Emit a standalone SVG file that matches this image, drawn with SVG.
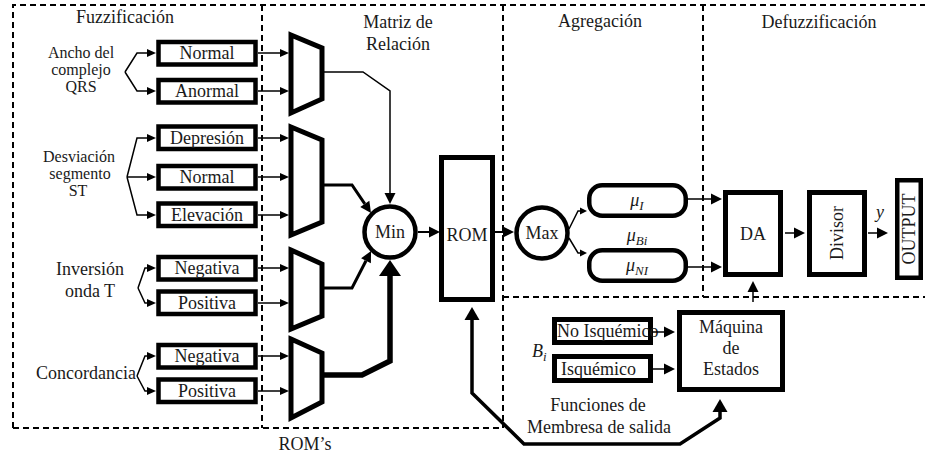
<svg xmlns="http://www.w3.org/2000/svg" width="925" height="457" viewBox="0 0 925 457">
  <style>
    text { font-family: "Liberation Serif", "DejaVu Serif", serif; font-size: 18px; fill: #1a1a1a; }
    .c { text-anchor: middle; }
    .it { font-style: italic; }
    .lbl { font-size: 16px; }
    .frame { fill: none; stroke: #000; stroke-width: 2; stroke-dasharray: 6 4; }
    .box { fill: #fff; stroke: #000; stroke-width: 4.5; }
    .blk { fill: #fff; stroke: #000; stroke-width: 5; }
    .rom { fill: #fff; stroke: #000; stroke-width: 5; stroke-linejoin: miter; }
    .ln { fill: none; stroke: #000; stroke-width: 1.5; }
    .ln2 { fill: none; stroke: #000; stroke-width: 2; }
    .ln3 { fill: none; stroke: #000; stroke-width: 3; }
    .ln4 { fill: none; stroke: #000; stroke-width: 3.5; }
    .ln6 { fill: none; stroke: #000; stroke-width: 5.5; }
  </style>
  <defs>
    <marker id="at" markerUnits="userSpaceOnUse" markerWidth="7" markerHeight="7" refX="0" refY="3.5" orient="auto" overflow="visible">
      <path d="M0,0 L7,3.5 L0,7 z" fill="#000"/>
    </marker>
    <marker id="as" markerUnits="userSpaceOnUse" markerWidth="9" markerHeight="8" refX="0" refY="4" orient="auto" overflow="visible">
      <path d="M0,0 L9,4 L0,8 z" fill="#000"/>
    </marker>
    <marker id="am" markerUnits="userSpaceOnUse" markerWidth="11" markerHeight="11" refX="0" refY="5.5" orient="auto-start-reverse" overflow="visible">
      <path d="M0,0 L11,5.5 L0,11 z" fill="#000"/>
    </marker>
    <marker id="ab" markerUnits="userSpaceOnUse" markerWidth="13" markerHeight="15" refX="0" refY="7.5" orient="auto-start-reverse" overflow="visible">
      <path d="M0,0 L13,7.5 L0,15 z" fill="#000"/>
    </marker>
    <marker id="ax" markerUnits="userSpaceOnUse" markerWidth="16" markerHeight="22" refX="0" refY="11" orient="auto" overflow="visible">
      <path d="M0,0 L16,11 L0,22 z" fill="#000"/>
    </marker>
  </defs>

  <!-- dashed stage frames -->
  <g id="frames">
    <path class="frame" d="M13,428 V5 H925"/>
    <path class="frame" d="M13,428 H503"/>
    <path class="frame" d="M262,5 V428"/>
    <path class="frame" d="M503,5 V428"/>
    <path class="frame" d="M703,5 V297"/>
    <path class="frame" d="M503,297 H925"/>
  </g>

  <!-- stage titles -->
  <g id="titles">
    <text class="c" x="125" y="23">Fuzzificación</text>
    <text class="c" x="398" y="28">Matriz de</text>
    <text class="c" x="398" y="50">Relación</text>
    <text class="c" x="600" y="27">Agregación</text>
    <text class="c" x="819" y="28">Defuzzificación</text>
    <text class="c" x="305" y="450">ROM’s</text>
    <text class="c" x="598" y="411">Funciones de</text>
    <text class="c" x="599" y="433">Membresa de salida</text>
  </g>

  <!-- input variable labels -->
  <g id="inputs">
    <text class="c lbl" x="81" y="58">Ancho del</text>
    <text class="c lbl" x="81" y="75">complejo</text>
    <text class="c lbl" x="81" y="92">QRS</text>
    <text class="c lbl" x="79" y="162">Desviación</text>
    <text class="c lbl" x="80" y="179">segmento</text>
    <text class="c lbl" x="78" y="196">ST</text>
    <text class="c" x="90" y="275">Inversión</text>
    <text class="c" x="90" y="297">onda T</text>
    <text class="c" x="86" y="379">Concordancia</text>
  </g>

  <!-- membership function blocks -->
  <g id="qrs-normal"><rect class="box" x="158.5" y="42" width="97" height="22.5"/><text class="c" x="207" y="59">Normal</text></g>
  <g id="qrs-anormal"><rect class="box" x="158.5" y="80" width="97" height="22.5"/><text class="c" x="207" y="97">Anormal</text></g>
  <g id="st-depresion"><rect class="box" x="158.5" y="126.5" width="97" height="22.5"/><text class="c" x="207" y="143.5">Depresión</text></g>
  <g id="st-normal"><rect class="box" x="158.5" y="166" width="97" height="22.5"/><text class="c" x="207" y="183">Normal</text></g>
  <g id="st-elevacion"><rect class="box" x="158.5" y="203.5" width="97" height="22.5"/><text class="c" x="207" y="220.5">Elevación</text></g>
  <g id="t-negativa"><rect class="box" x="158.5" y="257" width="97" height="22.5"/><text class="c" x="207" y="274">Negativa</text></g>
  <g id="t-positiva"><rect class="box" x="158.5" y="291.5" width="97" height="22.5"/><text class="c" x="207" y="308.5">Positiva</text></g>
  <g id="c-negativa"><rect class="box" x="158.5" y="345" width="97" height="22.5"/><text class="c" x="207" y="362">Negativa</text></g>
  <g id="c-positiva"><rect class="box" x="158.5" y="379.5" width="97" height="22.5"/><text class="c" x="207" y="396.5">Positiva</text></g>

  <!-- ROM blocks (trapezoids) -->
  <g id="rom-qrs"><polygon class="rom" points="291,35 322,48 322,99 291,113"/></g>
  <g id="rom-st"><polygon class="rom" points="291,127 322,140 322,222 291,235"/></g>
  <g id="rom-t"><polygon class="rom" points="291,250 322,264 322,316 291,329"/></g>
  <g id="rom-c"><polygon class="rom" points="291,339 322,353 322,402 291,418"/></g>

  <!-- relation / aggregation -->
  <g id="min"><circle class="box" cx="390" cy="232" r="25.5"/><text class="c" x="390" y="238">Min</text></g>
  <g id="rom"><rect class="blk" x="441.5" y="157.5" width="51" height="142"/><text class="c" x="467" y="241">ROM</text></g>
  <g id="max"><circle class="box" cx="542" cy="233" r="25.5"/><text class="c" x="542" y="239">Max</text></g>
  <g id="mu-i"><rect class="box" x="589.25" y="185.25" width="96.5" height="30.5" rx="13"/><text class="c it" x="637" y="206">μ<tspan font-size="13" dy="4">I</tspan></text></g>
  <text class="c it" x="637" y="241">μ<tspan font-size="13" dy="4">Bi</tspan></text>
  <g id="mu-ni"><rect class="box" x="589.25" y="250.25" width="96.5" height="30.5" rx="13"/><text class="c it" x="637" y="271">μ<tspan font-size="13" dy="4">NI</tspan></text></g>

  <!-- defuzzification -->
  <g id="da"><rect class="blk" x="725.5" y="192.5" width="55" height="82"/><text class="c" x="753" y="240">DA</text></g>
  <g id="divisor"><rect class="blk" x="809.5" y="192.5" width="55" height="82"/><text class="c" x="837" y="239" transform="rotate(-90 837 233)">Divisor</text></g>
  <text class="c it" x="880" y="218">y</text>
  <g id="output"><rect class="box" x="897.25" y="180.25" width="23.5" height="97.5"/><text class="c" x="909" y="235" transform="rotate(-90 909 229)">OUTPUT</text></g>

  <!-- output membership functions and state machine -->
  <g id="no-isquemico"><rect class="blk" x="554.5" y="319.5" width="96" height="23"/><text x="557" y="337" font-size="17">No Isquémico</text></g>
  <g id="isquemico"><rect class="blk" x="554.5" y="356.5" width="96" height="24"/><text x="561" y="375" font-size="17">Isquémico</text></g>
  <text class="it" x="532" y="357">B<tspan font-size="13" dy="4">i</tspan></text>
  <g id="maquina"><rect class="blk" x="679.5" y="312.5" width="103" height="77"/><text class="c" x="731" y="333">Máquina</text><text class="c" x="731" y="354">de</text><text class="c" x="731" y="375">Estados</text></g>

  <g id="connectors">
    <!-- input fan-outs -->
    <path class="ln" d="M125,72 L137,53 H147" marker-end="url(#as)"/>
    <path class="ln" d="M125,72 L137,91 H147" marker-end="url(#as)"/>
    <path class="ln" d="M127,177 L137,138 H147" marker-end="url(#as)"/>
    <path class="ln" d="M127,177 H147" marker-end="url(#as)"/>
    <path class="ln" d="M127,177 L137,215 H147" marker-end="url(#as)"/>
    <path class="ln" d="M138,288 L145,268 H147" marker-end="url(#as)"/>
    <path class="ln" d="M138,288 L145,303 H147" marker-end="url(#as)"/>
    <path class="ln" d="M137,376 L145,356 H147" marker-end="url(#as)"/>
    <path class="ln" d="M137,376 L145,391 H147" marker-end="url(#as)"/>
    <!-- blocks to ROMs -->
    <path class="ln" d="M258,53 H280" marker-end="url(#as)"/>
    <path class="ln" d="M258,91 H280" marker-end="url(#as)"/>
    <path class="ln" d="M258,138 H280" marker-end="url(#as)"/>
    <path class="ln" d="M258,177 H280" marker-end="url(#as)"/>
    <path class="ln" d="M258,215 H280" marker-end="url(#as)"/>
    <path class="ln" d="M258,268 H280" marker-end="url(#as)"/>
    <path class="ln" d="M258,303 H280" marker-end="url(#as)"/>
    <path class="ln" d="M258,356 H280" marker-end="url(#as)"/>
    <path class="ln" d="M258,391 H280" marker-end="url(#as)"/>
    <!-- ROMs to Min -->
    <path class="ln" d="M324,72 H363 L390,91 V193" marker-end="url(#am)"/>
    <path class="ln3" d="M324,185 H352 L364.8,203.9" marker-end="url(#am)"/>
    <path class="ln3" d="M324,288 H352 L366,260.8" marker-end="url(#am)"/>
    <path class="ln6" d="M324,375 H362 L390,361 V276" marker-end="url(#ax)"/>
    <!-- Min / ROM / Max -->
    <path class="ln2" d="M418,232 H429" marker-end="url(#am)"/>
    <path class="ln2" d="M495,232 H503" marker-end="url(#am)"/>
    <path class="ln" d="M569,229 L578,211 H580" marker-end="url(#at)"/>
    <path class="ln" d="M569,238 L578,253 H580" marker-end="url(#at)"/>
    <!-- aggregation to defuzzification -->
    <path class="ln" d="M688,199 H711" marker-end="url(#am)"/>
    <path class="ln" d="M688,267 H711" marker-end="url(#am)"/>
    <path class="ln" d="M785,233 H794" marker-end="url(#am)"/>
    <path class="ln" d="M868,233 H877" marker-end="url(#am)"/>
    <path class="ln" d="M753,302 V292" marker-end="url(#am)"/>
    <!-- output membership functions to state machine -->
    <path class="ln" d="M653,332 H664" marker-end="url(#am)"/>
    <path class="ln" d="M653,369 H664" marker-end="url(#am)"/>
    <!-- ROM to state machine link -->
    <path class="ln4" d="M472,320 V393 L524,444 H680 L720,418 V412" marker-start="url(#ab)" marker-end="url(#ab)"/>
  </g>
</svg>
